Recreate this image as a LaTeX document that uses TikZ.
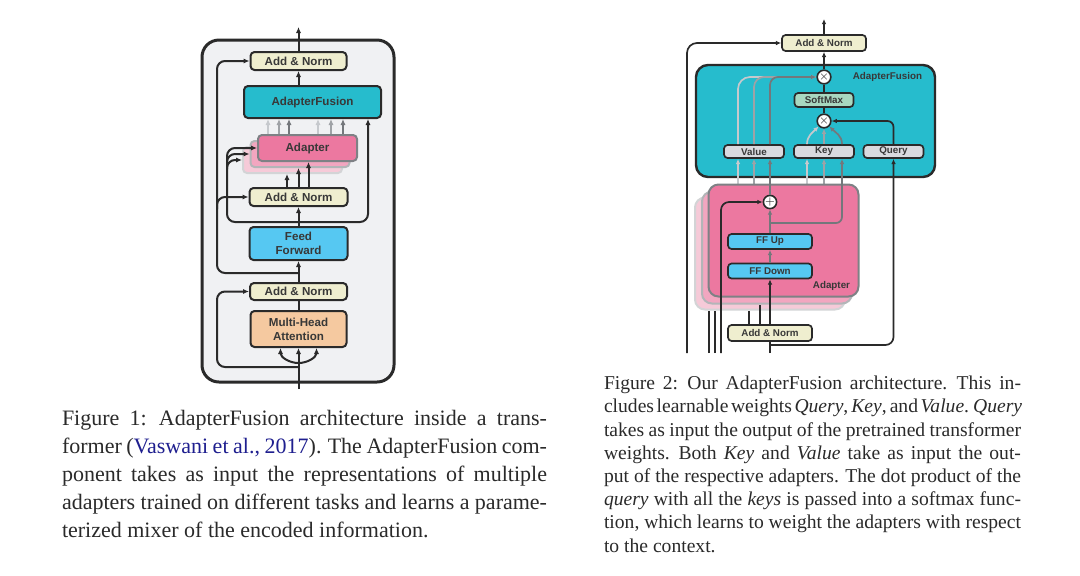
\documentclass[tikz,border=0pt]{standalone}
\usepackage{fontspec}
\setmainfont{Liberation Serif}
\newfontfamily\diagfont{Liberation Sans}
\usetikzlibrary{arrows.meta,calc}

\definecolor{ink}{HTML}{2A2A2A}
\definecolor{labelink}{HTML}{383838}
\definecolor{framegray}{HTML}{F0F1F3}
\definecolor{normbeige}{HTML}{EFEECF}
\definecolor{fusionteal}{HTML}{26BCCD}
\definecolor{adapterpink}{HTML}{EC78A0}
\definecolor{adapterpinkb}{HTML}{F2A6C0}
\definecolor{adapterpinkc}{HTML}{F6CAD8}
\definecolor{borda}{HTML}{7E8185}
\definecolor{bordb}{HTML}{B3B5B8}
\definecolor{bordc}{HTML}{D3D4D6}
\definecolor{ffblue}{HTML}{56C8F2}
\definecolor{attnpeach}{HTML}{F5C9A0}
\definecolor{softmint}{HTML}{A8D8C0}
\definecolor{wgray}{HTML}{D9DADF}
\definecolor{linea}{HTML}{C6C9CD}
\definecolor{lineb}{HTML}{9FA2A6}
\definecolor{linec}{HTML}{74777B}
\definecolor{citeblue}{HTML}{1F1F8F}

\newcommand{\capone}[1]{\hbox to 242.5pt{\spaceskip=.25em plus .4em minus .12em\xspaceskip=.33em plus .4em minus .12em #1}}
\newcommand{\captwo}[1]{\hbox to 208.5pt{\spaceskip=.25em plus .4em minus .12em\xspaceskip=.33em plus .4em minus .12em #1}}

\tikzset{
  arr/.style={-{Latex[length=3pt,width=2.6pt]}},
  arrs/.style={-{Latex[length=2.6pt,width=2.3pt]}},
  boxL/.style={draw=ink, line width=1pt, rounded corners=2pt, inner sep=0pt, align=center, text=labelink, font=\diagfont\bfseries\fontsize{5.8}{7.3}\selectfont},
  boxR/.style={draw=ink, line width=0.85pt, rounded corners=1.8pt, inner sep=0pt, align=center, text=labelink, font=\diagfont\bfseries\fontsize{4.9}{6}\selectfont},
  adapterL/.style={boxL, minimum width=49.5pt, minimum height=13pt},
  adapterR/.style={line width=1pt, rounded corners=5pt, minimum width=75pt, minimum height=56pt},
  opnode/.style={circle, draw=ink, line width=0.8pt, fill=white, inner sep=0pt, minimum size=6pt, font=\fontsize{5}{5}\selectfont},
  labelR/.style={inner sep=0pt, text=labelink, font=\diagfont\bfseries\fontsize{4.9}{6}\selectfont},
  caption/.style={inner sep=0pt, anchor=north west, align=left},
}

\begin{document}
\begin{tikzpicture}[x=0.5pt, y=-0.5pt, line width=1pt, ink]
\useasboundingbox (0,0) rectangle (1080,575);
\fill[white] (0,0) rectangle (1080,575);
%-- left: transformer layer
\node[draw=ink, fill=framegray, line width=1.5pt, rounded corners=8.5pt, minimum width=96pt, minimum height=171pt] (L-frame) at (298,211) {};
\node[boxL, fill=normbeige, minimum width=48pt, minimum height=9pt] (L-an3) at (298.5,61) {Add \& Norm};
\node[boxL, fill=fusionteal, minimum width=68.5pt, minimum height=16pt] (L-af) at (312.5,102) {AdapterFusion};
\draw[arr, linea] ([xshift=-22.25pt, yshift=-10pt]L-af.south) -- ([xshift=-22.25pt]L-af.south);
\draw[arr, lineb] ([xshift=-16.75pt, yshift=-10pt]L-af.south) -- ([xshift=-16.75pt]L-af.south);
\draw[arr, linec] ([xshift=-11.75pt, yshift=-10pt]L-af.south) -- ([xshift=-11.75pt]L-af.south);
\draw[arr, linea] ([xshift=2.75pt, yshift=-10pt]L-af.south) -- ([xshift=2.75pt]L-af.south);
\draw[arr, lineb] ([xshift=9.25pt, yshift=-10pt]L-af.south) -- ([xshift=9.25pt]L-af.south);
\draw[arr, linec] ([xshift=15.25pt, yshift=-10pt]L-af.south) -- ([xshift=15.25pt]L-af.south);
\node[adapterL, fill=adapterpinkc, draw=bordc] (L-ad3) at (292.5,160) {};
\node[adapterL, fill=adapterpinkb, draw=bordb] (L-ad2) at (300,154) {};
\node[adapterL, fill=adapterpink, draw=borda] (L-ad1) at (307.5,148) {Adapter};
\node[boxL, fill=normbeige, minimum width=49pt, minimum height=9pt] (L-an2) at (298.5,197) {Add \& Norm};
\node[boxL, fill=ffblue, minimum width=49pt, minimum height=16.5pt] (L-ff) at (298.5,243.5) {Feed\\Forward};
\node[boxL, fill=normbeige, minimum width=48.5pt, minimum height=8.5pt] (L-an1) at (298.5,291.5) {Add \& Norm};
\node[boxL, fill=attnpeach, minimum width=48pt, minimum height=18pt, font=\diagfont\bfseries\fontsize{5.8}{7}\selectfont] (L-mha) at (298.5,329) {Multi-Head\\Attention};
\coordinate (L-in) at (298.5,389);
\coordinate (L-out) at (298.5,27);
\coordinate (L-sp) at (298.5,363);
\coordinate (L-j1) at (298.5,367);
\coordinate (L-j2) at (298.5,273);
\coordinate (L-j3) at (298.5,222);
\coordinate (L-rail) at (217,0);
\coordinate (L-rail2) at (227,0);
%--
\draw[arr] (L-an3.north) -- (L-out);
\draw[arr] (L-an3.south |- L-af.north) -- (L-an3.south);
\draw[arr] ([xshift=-5.75pt]L-an2.north) -- ([xshift=-2.75pt]L-ad3.south);
\draw[arr] (L-an2.north) -- ([xshift=-0.75pt]L-ad2.south);
\draw[arr] ([xshift=5pt]L-an2.north) -- ([xshift=0.5pt]L-ad1.south);
\draw[arr] (L-ff.north) -- (L-an2.south);
\draw[arr] (L-an1.north) -- (L-ff.south);
\draw (L-mha.north) -- (L-an1.south);
\draw[arr] (L-in) -- (L-mha.south);
\draw[arr] (L-sp) to[out=180, in=-90] ([xshift=-9pt]L-mha.south);
\draw[arr] (L-sp) to[out=0, in=-90] ([xshift=9pt]L-mha.south);
%-- residuals
\draw[arr, rounded corners=4pt] (L-j1) -| (L-rail |- L-an1.west) -- (L-an1.west);
\draw[arr, rounded corners=4pt] (L-j2) -| (L-rail |- L-an3.west) -- (L-an3.west);
\draw[arr, rounded corners=4pt] ($(L-rail |- L-an2.west)+(0,12)$) |- (L-an2.west);
\draw[arr, rounded corners=4pt] (L-j3) -| (L-rail2 |- L-ad1.west) -- (L-ad1.west);
\draw[arr, rounded corners=4pt] ($(L-rail2 |- L-ad2.west)+(0,9)$) |- (L-ad2.west);
\draw[arr, rounded corners=4pt] ($(L-rail2 |- L-ad3.west)+(0,9)$) |- (L-ad3.west);
\draw[arr, rounded corners=4pt] (L-j3) -| ([xshift=27.75pt]L-af.south);
%-- right: adapter fusion
\node[boxR, fill=normbeige, minimum width=42pt, minimum height=8pt] (R-an2) at (824,43) {Add \& Norm};
\node[draw=ink, fill=fusionteal, line width=1.2pt, rounded corners=6pt, minimum width=119.5pt, minimum height=56pt] (R-af) at (815.5,121) {};
\node[labelR, anchor=east] (R-aflabel) at (923,77) {AdapterFusion};
\node[opnode] (R-mul2) at (824,77) {$\times$};
\node[boxR, fill=softmint, minimum width=29.5pt, minimum height=7pt] (R-sm) at (824,100) {SoftMax};
\node[opnode] (R-mul1) at (824,121) {$\times$};
\node[boxR, fill=wgray, minimum width=30pt, minimum height=6.5pt] (R-val) at (754,151.5) {Value};
\node[boxR, fill=wgray, minimum width=30pt, minimum height=6.5pt] (R-key) at (824,151.5) {Key};
\node[boxR, fill=wgray, minimum width=30pt, minimum height=6.5pt] (R-qry) at (893.5,151.5) {Query};
\coordinate (R-in) at (770,353);
\coordinate (R-out) at (824,19);
\coordinate (R-j1) at (770,345);
\coordinate (R-j2) at (770,223);
\coordinate (R-rail0) at (687,353);
\coordinate (R-rail1) at (709,353);
\coordinate (R-rail2) at (715,353);
\coordinate (R-rail3) at (721,353);
%--
\draw[arrs, line width=0.85pt] (R-an2.north) -- (R-out);
\draw[arrs, line width=0.85pt] (R-mul2.north) -- (R-an2.south);
\draw[line width=0.85pt] (R-sm.north) -- (R-mul2.south);
\draw[line width=0.85pt] (R-mul1.north) -- (R-sm.south);
\draw[arrs, line width=0.85pt, rounded corners=3pt] (R-qry.north) |- (R-mul1.east);
\draw[arrs, line width=0.85pt, linea] ([xshift=-8.5pt]R-key.north) to[out=90, in=-135] (R-mul1.-135);
\draw[arrs, line width=0.85pt, lineb] (R-key.north) -- (R-mul1.south);
\draw[arrs, line width=0.85pt, linec] ([xshift=9pt]R-key.north) to[out=90, in=-45] (R-mul1.-45);
\draw[arrs, line width=0.85pt, linea, rounded corners=6pt] ([xshift=-8pt]R-val.north) |- (R-mul2.west);
\draw[arrs, line width=0.85pt, lineb, rounded corners=5pt] (R-val.north) |- (R-mul2.west);
\draw[arrs, line width=0.85pt, linec, rounded corners=4pt] ([xshift=8pt]R-val.north) |- (R-mul2.west);
\draw[arrs, line width=0.85pt, linea] ([xshift=-8pt, yshift=-20pt]R-val.south) -- ([xshift=-8pt]R-val.south);
\draw[arrs, line width=0.85pt, lineb] ([yshift=-20pt]R-val.south) -- (R-val.south);
\draw[arrs, line width=0.85pt, linea] ([xshift=-8.5pt, yshift=-20pt]R-key.south) -- ([xshift=-8.5pt]R-key.south);
\draw[arrs, line width=0.85pt, lineb] ([yshift=-20pt]R-key.south) -- (R-key.south);
%-- adapters
\node[adapterR, fill=adapterpinkc, draw=bordc] (R-ad3) at (770,253.5) {};
\node[adapterR, fill=adapterpinkb, draw=bordb] (R-ad2) at (777,247.5) {};
\node[adapterR, fill=adapterpink, draw=borda] (R-ad1) at (783.5,240.5) {};
\node[labelR, anchor=east] (R-adlabel) at (851,286) {Adapter};
\node[opnode] (R-add) at (770,202) {$+$};
\node[boxR, fill=ffblue, minimum width=42pt, minimum height=7.5pt] (R-ffu) at (770,241.5) {FF Up};
\node[boxR, fill=ffblue, minimum width=42pt, minimum height=7.5pt] (R-ffd) at (770,271) {FF Down};
\node[boxR, fill=normbeige, minimum width=42pt, minimum height=8pt] (R-an1) at (770,333) {Add \& Norm};
%--
\draw[arrs, line width=0.85pt, linec] (R-add.north) -- ([xshift=8pt]R-val.south);
\draw[arrs, line width=0.85pt, linec, rounded corners=3pt] (R-j2) -| ([xshift=9pt]R-key.south);
\draw[arrs, line width=0.85pt, linec] (R-ffu.north) -- (R-add.south);
\draw[arrs, line width=0.85pt, linec] (R-ffd.north) -- (R-ffu.south);
\draw[arrs, line width=0.85pt] (R-an1.north) -- (R-ffd.south);
\draw[line width=0.85pt] ([xshift=-10.5pt]R-an1.north) -- ([xshift=-10.5pt]R-ad3.south);
\draw[line width=0.85pt] ([xshift=-5pt]R-an1.north) -- ([xshift=-8.5pt]R-ad2.south);
\draw[line width=0.85pt] (R-rail1) -- (R-rail1 |- R-ad3.south);
\draw[line width=0.85pt] (R-rail2) -- (R-rail2 |- R-ad3.south);
\draw[arrs, line width=0.85pt, rounded corners=4pt] (R-rail3) |- (R-add.west);
\draw[arrs, line width=0.85pt, rounded corners=5pt] (R-rail0) |- (R-an2.west);
\draw[line width=0.85pt] (R-in) -- (R-an1.south);
\draw[arrs, line width=0.85pt, rounded corners=4pt] (R-j1) -| (R-qry.south);
%-- captions
\node[caption, font=\fontsize{11}{14}\selectfont] (cap1) at (61,409) {%
\capone{Figure 1: AdapterFusion architecture inside a trans-}\\
\capone{former (\textcolor{citeblue}{Vaswani et al., 2017}). The AdapterFusion com-}\\
\capone{ponent takes as input the representations of multiple}\\
\capone{adapters trained on different tasks and learns a parame-}\\
terized mixer of the encoded information.};
\node[caption, font=\fontsize{9.8}{11.6}\selectfont] (cap2) at (603,375) {%
\captwo{Figure 2: Our AdapterFusion architecture. This in-}\\
\captwo{cludes learnable weights \emph{Query}, \emph{Key}, and \emph{Value}. \emph{Query}}\\
\captwo{takes as input the output of the pretrained transformer}\\
\captwo{weights. Both \emph{Key} and \emph{Value} take as input the out-}\\
\captwo{put of the respective adapters. The dot product of the}\\
\captwo{\emph{query} with all the \emph{keys} is passed into a softmax func-}\\
\captwo{tion, which learns to weight the adapters with respect}\\
to the context.};
\end{tikzpicture}
\end{document}
